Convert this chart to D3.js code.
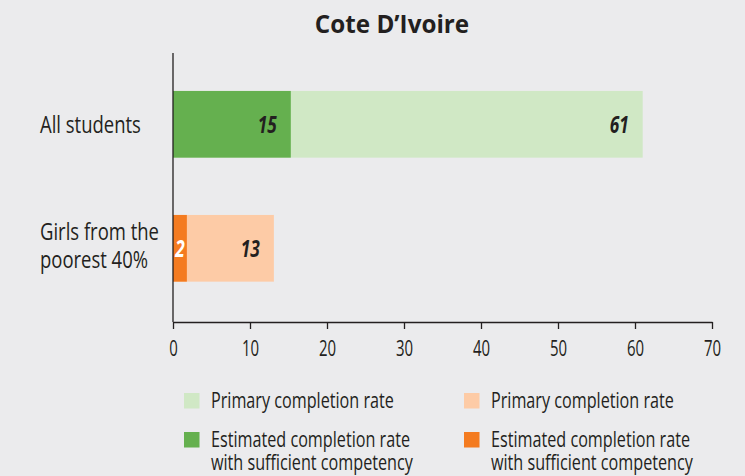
<!DOCTYPE html>
<html>
<head>
<meta charset="utf-8">
<script src="https://cdn.jsdelivr.net/npm/d3@7"></script>
<style>
  body { margin: 0; background: #ebebed; }
  text { font-family: "Open Sans", sans-serif; fill: #231f20; }
</style>
</head>
<body>
<div id="chart"></div>
<script>
var categories = ["All students", "Girls from the|poorest 40%"];
var completion = [61, 13.1];          // primary completion rate
var competency = [15.3, 1.8];         // with sufficient competency
var valueLabels = [["15", "61"], ["2", "13"]];
var xTicks = [0, 10, 20, 30, 40, 50, 60, 70];

var lightColors = ["#d0e8c5", "#fdcba6"];
var darkColors = ["#65b04f", "#f47b20"];

var width = 745, height = 476;
var margin = {top: 53, left: 173, right: 33};
var axisY = 322;
var cond = 0.77;   // the original font is a condensed face, squeeze Open Sans to match

var svg = d3.select("#chart").append("svg")
    .attr("width", width)
    .attr("height", height);

svg.append("rect").attr("width", width).attr("height", height).attr("fill", "#ebebed");

// place a text at (x,y) squeezed horizontally
function put(t, x, y, sx) {
  return t.attr("transform", "translate(" + x + "," + y + ") scale(" + sx + ",1)");
}

put(svg.append("text"), 392, 33, 0.97)
    .attr("text-anchor", "middle")
    .style("font-size", "25px").style("font-weight", "bold")
    .text("Cote D\u2019Ivoire");

var x = d3.scaleLinear().domain([0, 70]).range([margin.left, width - margin.right]);
var y = d3.scalePoint().domain(d3.range(categories.length)).range([124.3, 248.3]);
var barH = 66.7;

var g = svg.append("g");

g.selectAll(".light").data(completion).enter().append("rect")
    .attr("x", x(0))
    .attr("y", function(d, i) { return y(i) - barH / 2; })
    .attr("width", function(d) { return x(d) - x(0); })
    .attr("height", barH)
    .attr("fill", function(d, i) { return lightColors[i]; });

g.selectAll(".dark").data(competency).enter().append("rect")
    .attr("x", x(0))
    .attr("y", function(d, i) { return y(i) - barH / 2; })
    .attr("width", function(d) { return x(d) - x(0); })
    .attr("height", barH)
    .attr("fill", function(d, i) { return darkColors[i]; });

// value labels
var lbl = svg.append("g").style("font-size", "24px").style("font-weight", "bold").style("font-style", "italic");
competency.forEach(function(v, i) {
  var small = x(v) - x(0) < 30;
  put(lbl.append("text"), small ? (x(0) + x(v)) / 2 : x(v) - 14, y(i) + 9, 0.72)
      .attr("text-anchor", small ? "middle" : "end")
      .style("fill", small ? "#fff" : "#231f20")
      .text(valueLabels[i][0]);
  put(lbl.append("text"), x(completion[i]) - 14, y(i) + 9, 0.72)
      .attr("text-anchor", "end")
      .text(valueLabels[i][1]);
});

// category labels
categories.forEach(function(c, i) {
  var lines = c.split("|");
  lines.forEach(function(l, j) {
    put(svg.append("text"), 40, y(i) + 9 + (j - (lines.length - 1) / 2) * 28 + (lines.length > 1 ? -3 : 0), cond)
        .style("font-size", "24px")
        .text(l);
  });
});

// axes
svg.append("line").attr("x1", x(0)).attr("x2", x(0)).attr("y1", margin.top).attr("y2", axisY)
    .attr("stroke", "#231f20").attr("stroke-width", 1.3);

var xAxis = svg.append("g").attr("transform", "translate(0," + axisY + ")")
    .call(d3.axisBottom(x).tickValues(xTicks).tickSize(7).tickPadding(11).tickSizeOuter(0));
xAxis.select(".domain").attr("stroke", "#231f20").attr("stroke-width", 1.3);
xAxis.selectAll(".tick line").attr("stroke", "#231f20").attr("stroke-width", 1.3);
xAxis.selectAll(".tick text")
    .style("font-size", "22px").style("font-family", "Open Sans, sans-serif")
    .attr("fill", "#3a3a3a")
    .attr("transform", "scale(0.68,1)");

// legend
var legendItems = [
  {col: 0, row: 0, color: lightColors[0], text: ["Primary completion rate"]},
  {col: 1, row: 0, color: lightColors[1], text: ["Primary completion rate"]},
  {col: 0, row: 1, color: darkColors[0], text: ["Estimated completion rate", "with sufficient competency"]},
  {col: 1, row: 1, color: darkColors[1], text: ["Estimated completion rate", "with sufficient competency"]}
];
var legend = svg.append("g");
legendItems.forEach(function(d) {
  var lx = 184 + d.col * 280, ly = 393 + d.row * 39;
  legend.append("rect").attr("x", lx).attr("y", ly).attr("width", 15.5).attr("height", 15.5).attr("fill", d.color);
  d.text.forEach(function(s, j) {
    put(legend.append("text"), lx + 27, ly + 15 + j * 23, cond)
        .style("font-size", "21px")
        .text(s);
  });
});
</script>
</body>
</html>
